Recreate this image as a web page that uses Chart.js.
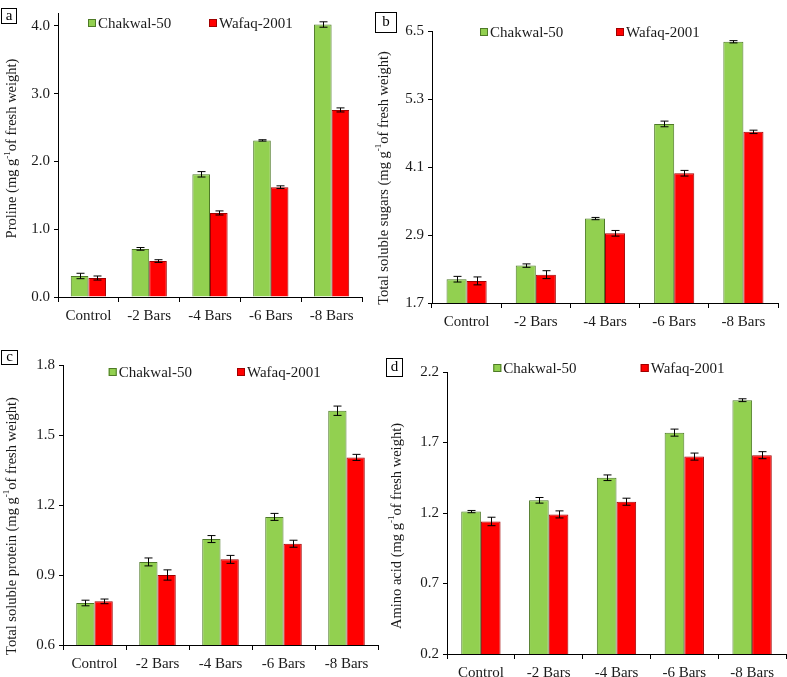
<!DOCTYPE html>
<html>
<head>
<meta charset="utf-8">
<script src="https://cdn.jsdelivr.net/npm/chart.js@4.4.1/dist/chart.umd.min.js"></script>
<style>
  html, body { margin: 0; padding: 0; background: #fff; }
  #wrap { position: relative; width: 787px; height: 677px; overflow: hidden; }
  canvas { position: absolute; }
</style>
</head>
<body>
<div id="wrap">
  <canvas id="pa" width="372" height="338" style="left:0;top:0"></canvas>
  <canvas id="pb" width="415" height="338" style="left:372px;top:0"></canvas>
  <canvas id="pc" width="384" height="339" style="left:0;top:338px"></canvas>
  <canvas id="pd" width="403" height="339" style="left:384px;top:338px"></canvas>
</div>
<script>
const categories = ["Control", "-2 Bars", "-4 Bars", "-6 Bars", "-8 Bars"]
const seriesNames = ["Chakwal-50", "Wafaq-2001"]

// (a) proline
const prolineChakwal = [0.31, 0.71, 1.81, 2.31, 4.02]
const prolineWafaq = [0.28, 0.53, 1.24, 1.62, 2.76]
const prolineChakwalErr = [0.04, 0.02, 0.04, 0.01, 0.04]
const prolineWafaqErr = [0.03, 0.02, 0.03, 0.02, 0.03]
const prolineTicks = [0, 1, 2, 3, 4]

// (b) total soluble sugars
const sugarChakwal = [2.12, 2.36, 3.19, 4.86, 6.31]
const sugarWafaq = [2.09, 2.20, 2.93, 3.99, 4.72]
const sugarChakwalErr = [0.05, 0.03, 0.02, 0.05, 0.02]
const sugarWafaqErr = [0.07, 0.07, 0.05, 0.05, 0.03]
const sugarTicks = [1.7, 2.9, 4.1, 5.3, 6.5]

// (c) total soluble protein
const proteinChakwal = [0.78, 0.956, 1.054, 1.149, 1.604]
const proteinWafaq = [0.787, 0.90, 0.967, 1.034, 1.404]
const proteinChakwalErr = [0.012, 0.017, 0.015, 0.015, 0.02]
const proteinWafaqErr = [0.01, 0.022, 0.017, 0.015, 0.013]
const proteinTicks = [0.6, 0.9, 1.2, 1.5, 1.8]

// (d) amino acid
const aminoChakwal = [1.21, 1.29, 1.45, 1.77, 2.00]
const aminoWafaq = [1.14, 1.19, 1.28, 1.60, 1.61]
const aminoChakwalErr = [0.008, 0.02, 0.02, 0.025, 0.01]
const aminoWafaqErr = [0.03, 0.025, 0.025, 0.025, 0.025]
const aminoTicks = [0.2, 0.7, 1.2, 1.7, 2.2]

const SERIF = "'Liberation Serif', 'Times New Roman', serif"
Chart.defaults.font.family = SERIF
Chart.defaults.font.size = 15
Chart.defaults.color = "#1a1a1a"

const GREEN = "#92D050"
const RED = "#FF0000"

function makePanel(id, p) {
  const deco = {
    id: "deco" + id,
    afterDatasetsDraw(chart) {
      const ctx = chart.ctx
      const yScale = chart.scales.y

      // error bars
      ctx.save()
      ctx.strokeStyle = "#000"
      ctx.lineWidth = 1
      chart.data.datasets.forEach((ds, di) => {
        chart.getDatasetMeta(di).data.forEach((bar, i) => {
          const v = ds.data[i], e = ds.errors[i]
          const x = Math.round(bar.x) + 0.5
          const y1 = yScale.getPixelForValue(v + e)
          const y2 = yScale.getPixelForValue(v - e)
          ctx.beginPath()
          ctx.moveTo(x, y1); ctx.lineTo(x, y2)
          ctx.moveTo(x - 4, y1); ctx.lineTo(x + 4, y1)
          ctx.moveTo(x - 4, y2); ctx.lineTo(x + 4, y2)
          ctx.stroke()
        })
      })
      ctx.restore()

      // legend inside plot
      ctx.save()
      ctx.font = "15px " + SERIF
      ctx.textBaseline = "middle"
      ctx.textAlign = "left"
      chart.data.datasets.forEach((ds, di) => {
        const lx = p.legendX[di]
        ctx.fillStyle = ds.backgroundColor
        ctx.fillRect(lx, p.legendY - 4, 8, 8)
        ctx.strokeStyle = ds.borderColor
        ctx.strokeRect(lx + 0.5, p.legendY - 3.5, 7, 7)
        ctx.fillStyle = "#1a1a1a"
        ctx.fillText(ds.label, lx + 10, p.legendY + 1)
      })
      ctx.restore()

      // panel letter box
      ctx.save()
      const b = p.box
      ctx.strokeStyle = "#000"
      ctx.lineWidth = 1
      ctx.strokeRect(b[0] + 0.5, b[1] + 0.5, b[2], b[3])
      ctx.fillStyle = "#000"
      ctx.font = "15px " + SERIF
      ctx.textAlign = "center"
      ctx.textBaseline = "middle"
      ctx.fillText(p.letter, b[0] + b[2] / 2 + 0.5, b[1] + b[3] / 2 + 0.5)
      ctx.restore()

      // rotated y title with superscript
      ctx.save()
      ctx.translate(p.titleX, p.titleY)
      ctx.rotate(-Math.PI / 2)
      ctx.fillStyle = "#1a1a1a"
      ctx.textBaseline = "middle"
      ctx.textAlign = "left"
      const big = "14.5px " + SERIF, small = "9px " + SERIF
      const parts = [[p.title[0], big, 0], ["-1", small, -5], [p.title[1], big, 0]]
      let total = 0
      parts.forEach(pt => { ctx.font = pt[1]; total += ctx.measureText(pt[0]).width })
      let x = -total / 2
      parts.forEach(pt => {
        ctx.font = pt[1]
        ctx.fillText(pt[0], x, pt[2])
        x += ctx.measureText(pt[0]).width
      })
      ctx.restore()
    }
  }

  return new Chart(document.getElementById(id), {
    type: "bar",
    data: {
      labels: categories,
      datasets: [
        { label: seriesNames[0], data: p.green, errors: p.greenErr, backgroundColor: GREEN, borderColor: "#4E7A27", borderWidth: 1 },
        { label: seriesNames[1], data: p.red, errors: p.redErr, backgroundColor: RED, borderColor: "#A00000", borderWidth: 1 },
      ],
    },
    options: {
      responsive: false,
      animation: false,
      devicePixelRatio: 1,
      categoryPercentage: 0.58,
      barPercentage: 1,
      layout: { autoPadding: false, padding: { left: 0, top: p.top, right: p.right, bottom: 0 } },
      plugins: { legend: { display: false }, tooltip: { enabled: false } },
      scales: {
        x: {
          grid: { offset: true, drawOnChartArea: false, tickLength: 5, color: "#000" },
          border: { color: "#000", width: 1 },
          ticks: { padding: 5 },
          afterFit: s => { s.height = p.xh },
        },
        y: {
          min: p.min,
          max: p.max,
          grid: { drawOnChartArea: false, tickLength: 4, color: "#000" },
          border: { color: "#000", width: 1 },
          ticks: { padding: 4, callback: v => Number(v).toFixed(1) },
          afterBuildTicks: s => { s.ticks = p.ticks.map(v => ({ value: v })) },
          afterFit: s => { s.width = p.yw },
        },
      },
    },
    plugins: [deco],
  })
}

makePanel("pa", {
  green: prolineChakwal, red: prolineWafaq, greenErr: prolineChakwalErr, redErr: prolineWafaqErr,
  ticks: prolineTicks, min: 0, max: 4.19,
  top: 9, right: 10, yw: 58, xh: 41,
  legendX: [88, 209], legendY: 23,
  box: [1, 8, 15, 15], letter: "a",
  title: ["Proline (mg g", "of fresh weight)"], titleX: 12.5, titleY: 148.5,
})

makePanel("pb", {
  green: sugarChakwal, red: sugarWafaq, greenErr: sugarChakwalErr, redErr: sugarWafaqErr,
  ticks: sugarTicks, min: 1.7, max: 6.5,
  top: 31, right: 9, yw: 60, xh: 35,
  legendX: [108, 244], legendY: 32,
  box: [3, 12, 21, 20], letter: "b",
  title: ["Total soluble sugars (mg g", "of fresh weight)"], titleX: 12, titleY: 178,
})

makePanel("pc", {
  green: proteinChakwal, red: proteinWafaq, greenErr: proteinChakwalErr, redErr: proteinWafaqErr,
  ticks: proteinTicks, min: 0.6, max: 1.8,
  top: 27, right: 6, yw: 63, xh: 32,
  legendX: [108.7, 237], legendY: 34,
  box: [1, 12, 16, 14], letter: "c",
  title: ["Total soluble protein (mg g", "of fresh weight)"], titleX: 12, titleY: 188,
})

makePanel("pd", {
  green: aminoChakwal, red: aminoWafaq, greenErr: aminoChakwalErr, redErr: aminoWafaqErr,
  ticks: aminoTicks, min: 0.2, max: 2.2,
  top: 34, right: 1, yw: 63, xh: 23,
  legendX: [109.3, 256.7], legendY: 30,
  box: [2, 20, 16, 18], letter: "d",
  title: ["Amino acid (mg g", "of fresh weight)"], titleX: 13, titleY: 188,
})
</script>
</body>
</html>
